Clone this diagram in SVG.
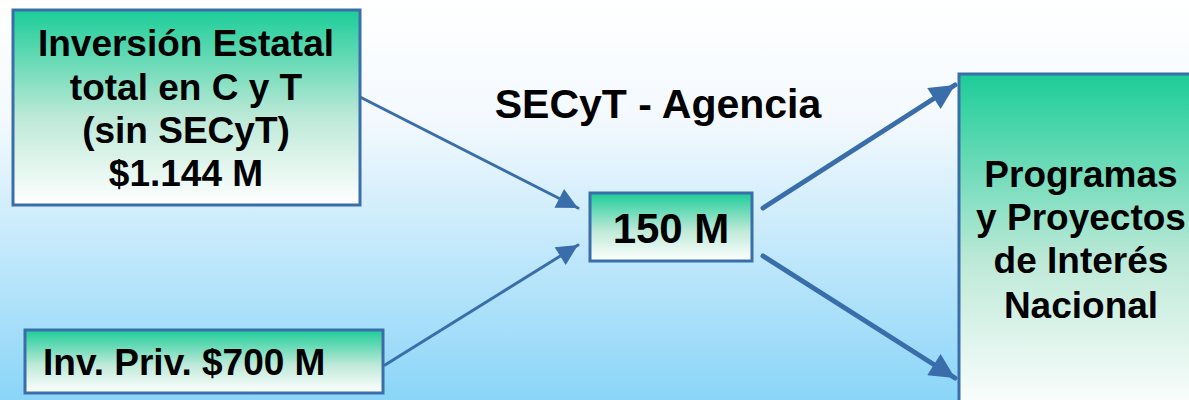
<svg xmlns="http://www.w3.org/2000/svg" width="1189" height="400" viewBox="0 0 1189 400">
<defs>
<linearGradient id="bg" x1="0" y1="0" x2="0" y2="1">
<stop offset="0" stop-color="#ffffff"/>
<stop offset="0.3" stop-color="#f3f9fe"/>
<stop offset="1" stop-color="#8ad5f8"/>
</linearGradient>
<linearGradient id="g" x1="0" y1="0" x2="0" y2="1">
<stop offset="0" stop-color="#1ccd98"/>
<stop offset="0.55" stop-color="#bde9d8"/>
<stop offset="1" stop-color="#ffffff"/>
</linearGradient>
<marker id="ah" viewBox="0 0 10 10" refX="10" refY="5" markerWidth="7.5" markerHeight="7" markerUnits="strokeWidth" orient="auto">
<path d="M0,0 L10,5 L0,10 z" fill="#3a6eaa"/>
</marker>
<marker id="ah2" viewBox="0 0 10 10" refX="10" refY="5" markerWidth="5.5" markerHeight="5" markerUnits="strokeWidth" orient="auto">
<path d="M0,0 L10,5 L0,10 z" fill="#3a6eaa"/>
</marker>
<style>
.box{stroke:#3a6eaa;stroke-width:3;fill:url(#g)}
.t{font-family:"Liberation Sans",Arial,sans-serif;font-weight:bold;fill:#000;font-size:37px}
.big{font-size:41px}
.mid{font-size:42px}
.c{text-anchor:middle}
.l{stroke:#3a6eaa;fill:none;stroke-linecap:round}
</style>
</defs>
<rect x="0" y="0" width="1189" height="400" fill="url(#bg)"/>
<g id="connectors">
<line class="l" x1="360" y1="97" x2="578" y2="208" stroke-width="3" marker-end="url(#ah)"/>
<line class="l" x1="385" y1="365" x2="578" y2="245" stroke-width="3" marker-end="url(#ah)"/>
<line class="l" x1="763" y1="208" x2="955" y2="85" stroke-width="5" marker-end="url(#ah2)"/>
<line class="l" x1="763" y1="256" x2="955" y2="378" stroke-width="5" marker-end="url(#ah2)"/>
</g>
<g id="title">
<text class="t c big" x="658" y="118">SECyT - Agencia</text>
</g>
<g id="n1">
<rect class="box" x="13" y="10" width="347" height="195"/>
<text class="t c" x="186" y="56">Inversión Estatal</text>
<text class="t c" x="186" y="100">total en C y T</text>
<text class="t c" x="186" y="143">(sin SECyT)</text>
<text class="t c" x="186" y="186">$1.144 M</text>
</g>
<g id="n2">
<rect class="box" x="25" y="330" width="358" height="63"/>
<text class="t" x="43" y="375">Inv. Priv. $700 M</text>
</g>
<g id="n3">
<rect class="box" x="590" y="193" width="162" height="68"/>
<text class="t c mid" x="671" y="243">150 M</text>
</g>
<g id="n4">
<rect class="box" x="959" y="74" width="240" height="340"/>
<text class="t c" x="1081" y="187">Programas</text>
<text class="t c" x="1081" y="230">y Proyectos</text>
<text class="t c" x="1081" y="273">de Interés</text>
<text class="t c" x="1081" y="318">Nacional</text>
</g>
</svg>
